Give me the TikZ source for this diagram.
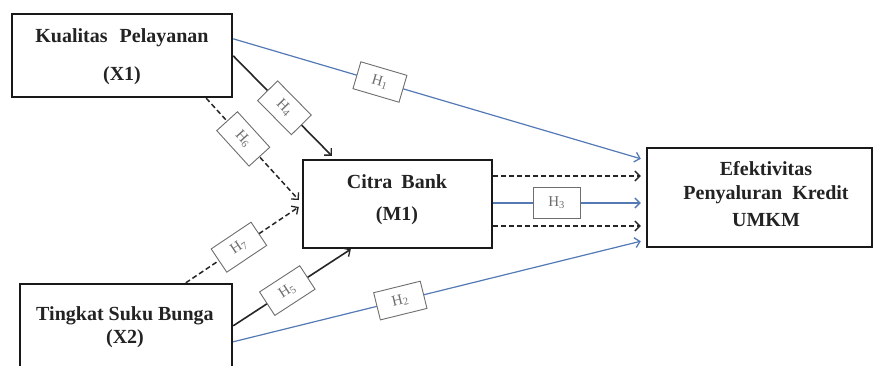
\documentclass[tikz,border=0pt]{standalone}
\usepackage{fontspec}
\setmainfont{Liberation Serif}
\usetikzlibrary{arrows.meta,calc}
\definecolor{linkblue}{RGB}{84,122,182}
\definecolor{txt}{RGB}{35,35,35}
\definecolor{hgray}{RGB}{110,110,110}
\tikzset{
  varbox/.style={draw=black!90, line width=2.4pt, fill=white, inner sep=0pt},
  vartext/.style={anchor=base, font=\fontsize{20}{20}\selectfont\bfseries, text=txt, inner sep=0pt},
  hbox/.style={draw=hgray, solid, line width=0.9pt, fill=white, minimum width=48pt, minimum height=28pt, inner sep=1pt, font=\fontsize{15}{15}\selectfont, text=hgray},
  tip/.style={-{Straight Barb[length=5pt,width=10pt,line width=1.3pt]}},
  solidarrow/.style={tip, line width=1.6pt, draw=black!85},
  dasharrow/.style={tip, line width=1.5pt, draw=black!85, dash pattern=on 5pt off 3pt},
  bluearrow/.style={tip, line width=1.2pt, draw=linkblue}
}
\begin{document}
\begin{tikzpicture}[x=1pt,y=-1pt]
\useasboundingbox (0,0) rectangle (874,365);
\fill[white] (0,0) rectangle (874,365);
% boxes
\node[varbox, minimum width=220pt, minimum height=83pt] (x1) at (122,55.5) {};
\node[varbox, minimum width=189pt, minimum height=88pt] (m1) at (397.5,204) {};
\node[varbox, minimum width=212pt, minimum height=86pt] (x2) at (126,327) {};
\node[varbox, minimum width=225pt, minimum height=99pt] (y) at (759.5,197.5) {};
% texts
\node[vartext] (x1a) at (122,42) {Kualitas\hspace{7pt} Pelayanan};
\node[vartext] (x1b) at (122,80) {(X1)};
\node[vartext] (m1a) at (397,188) {Citra\hspace{4pt} Bank};
\node[vartext] (m1b) at (397,220) {(M1)};
\node[vartext] (x2a) at (125,320) {Tingkat Suku Bunga};
\node[vartext] (x2b) at (125,343) {(X2)};
\node[vartext] (ya) at (766,175) {Efektivitas};
\node[vartext] (yb) at (766,199) {Penyaluran\hspace{5pt} Kredit};
\node[vartext] (yc) at (766,226) {UMKM};
% direct effects (blue)
\draw[bluearrow] ([yshift=-26pt]x1.north east) -- node[hbox, sloped, pos=0.36] (h1) {H\textsubscript{1}} ([xshift=-5pt,yshift=-12pt]y.north west);
\draw[bluearrow] ([yshift=-59pt]x2.north east) -- node[hbox, sloped, pos=0.41] (h2) {H\textsubscript{2}} ([xshift=-5pt,yshift=7pt]y.south west);
\draw[bluearrow] ([yshift=1pt]m1.east) -- node[hbox, minimum width=47pt, minimum height=31pt, pos=0.43] (h3) {H\textsubscript{3}} ([xshift=-5pt,yshift=1pt]y.west |- m1.east);
% X1 -> M1
\draw[solidarrow] ([yshift=-43pt]x1.north east) -- node[hbox, sloped, pos=0.52] (h4) {H\textsubscript{4}} ([xshift=30pt,yshift=3pt]m1.north west);
\draw[dasharrow] ([xshift=-27pt]x1.south east) -- node[hbox, sloped, pos=0.4] (h6) {H\textsubscript{6}} ([xshift=-3pt,yshift=4pt]m1.west);
% X2 -> M1
\draw[dasharrow] ([xshift=167pt]x2.north west) -- node[hbox, sloped, pos=0.47] (h7) {H\textsubscript{7}} ([xshift=-3pt,yshift=-3pt]m1.west);
\draw[solidarrow] ([yshift=-43pt]x2.north east) -- node[hbox, sloped, pos=0.46] (h5) {H\textsubscript{5}} ([xshift=49pt]m1.south west);
% mediated paths (dashed)
\draw[dasharrow] ([yshift=28pt]m1.east) -- ([xshift=-5pt,yshift=28pt]y.west |- m1.east);
\draw[dasharrow] ([yshift=-22pt]m1.east) -- ([xshift=-5pt,yshift=-22pt]y.west |- m1.east);
\end{tikzpicture}
\end{document}
